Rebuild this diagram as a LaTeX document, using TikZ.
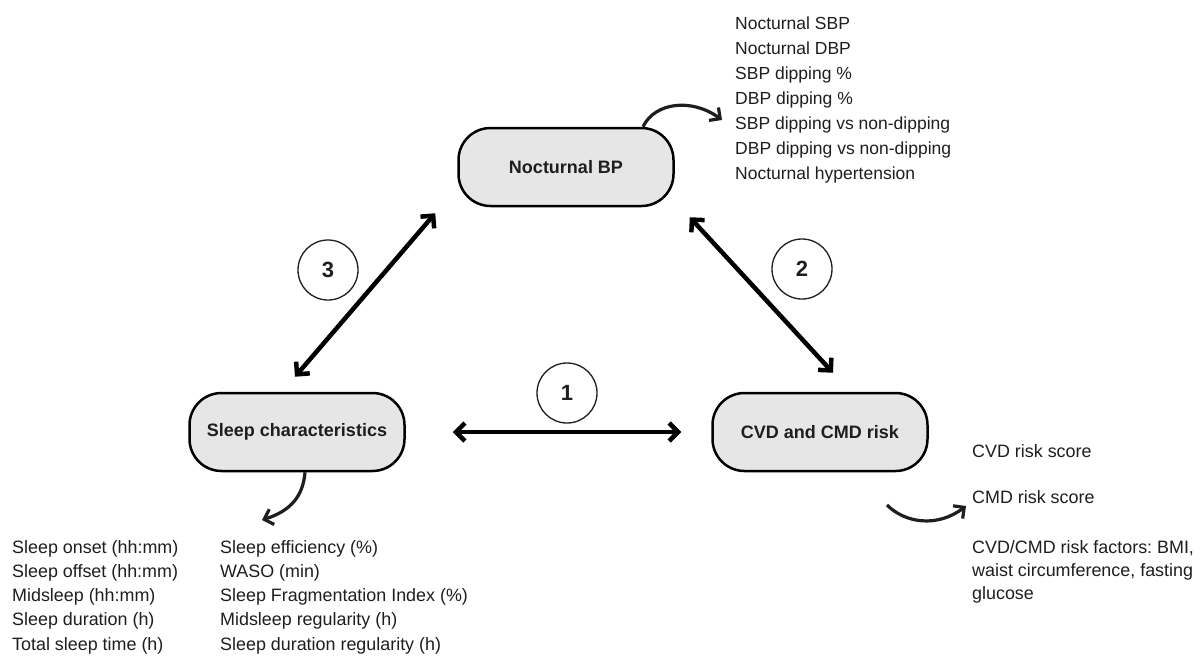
\documentclass[tikz,border=0pt]{standalone}
\usepackage{fontspec}
\setmainfont{Liberation Sans}
\usetikzlibrary{arrows.meta}
\definecolor{boxfill}{RGB}{230,230,230}
\definecolor{ink}{RGB}{30,30,30}
\frenchspacing
\begin{document}
\begin{tikzpicture}[x=1pt,y=-1pt,
  mainbox/.style={draw=black, fill=boxfill, line width=2.5pt, rounded corners=32pt, minimum width=215pt, minimum height=78pt, inner sep=0pt, font=\fontsize{18}{22}\selectfont\bfseries, text=ink},
  numcircle/.style={draw=ink, circle, line width=1.3pt, minimum size=60pt, inner sep=0pt, font=\fontsize{22}{24}\selectfont\bfseries, text=ink},
  linkarrow/.style={line width=4.5pt, {Straight Barb[length=9pt,width=18pt]}-{Straight Barb[length=9pt,width=18pt]}},
  curvearrow/.style={line width=3.2pt, draw=ink, -{Straight Barb[length=8pt,width=16pt]}},
  listtext/.style={anchor=base west, inner sep=0pt, font=\fontsize{17.5}{21}\selectfont, text=ink},
  listtextb/.style={listtext, font=\fontsize{17.9}{21}\selectfont}]
\useasboundingbox[fill=white] (0,0) rectangle (1203,659);

% main boxes
\node[mainbox] (nbp) at (566,167) {Nocturnal BP};
\node[mainbox] (sleep) at (297,432) {Sleep characteristics};
\node[mainbox] (cvd) at (820,432) {CVD and CMD risk};

% number circles
\node[numcircle] (c1) at (567,393) {1};
\node[numcircle] (c2) at (802,269) {2};
\node[numcircle] (c3) at (328,270) {3};

% double arrows
\draw[linkarrow] ([shift={(47,0)}]sleep.east) -- ([shift={(-30,0)}]cvd.west);
\draw[linkarrow] ([shift={(15,10)}]nbp.south east) -- ([shift={(13,-19)}]cvd.north);
\draw[linkarrow] ([shift={(-22,6)}]nbp.south west) -- ([shift={(-2,-15)}]sleep.north);

% free ends of curved arrows
\coordinate (bpend) at (722,120);
\coordinate (slend) at (262,520);
\coordinate (cvdstart) at (887,505);
\coordinate (cvdend) at (966,506);

\draw[curvearrow] ([xshift=77pt]nbp.north) .. controls (655,102) and (692,98) .. (bpend);
\draw[curvearrow] ([xshift=8pt]sleep.south) .. controls (303,497) and (290,511) .. (slend);
\draw[curvearrow] (cvdstart) .. controls (905,523) and (937,528) .. (cvdend);

% Nocturnal BP list
\foreach \t [count=\i] in {Nocturnal SBP, Nocturnal DBP, SBP dipping \%, DBP dipping \%, SBP dipping vs non-dipping, DBP dipping vs non-dipping, Nocturnal hypertension}
  \node[listtext] (bp\i) at ({735},{29+25*(\i-1)}) {\t};

% Sleep lists
\foreach \t [count=\i] in {Sleep onset (hh:mm), Sleep offset (hh:mm), Midsleep (hh:mm), Sleep duration (h), Total sleep time (h)}
  \node[listtextb] (sa\i) at ({12},{553+24.25*(\i-1)}) {\t};
\foreach \t [count=\i] in {Sleep efficiency (\%), WASO (min), Sleep Fragmentation Index (\%), Midsleep regularity (h), Sleep duration regularity (h)}
  \node[listtextb] (sb\i) at ({220},{553+24.25*(\i-1)}) {\t};

% CVD list
\node[listtextb] (cv1) at (972,457) {CVD risk score};
\node[listtextb] (cv2) at (972,503) {CMD risk score};
\node[listtextb] (cv3) at (972,553) {CVD/CMD risk factors: BMI,};
\node[listtextb] (cv4) at (972,576) {waist circumference, fasting};
\node[listtextb] (cv5) at (972,599) {glucose};
\end{tikzpicture}
\end{document}
